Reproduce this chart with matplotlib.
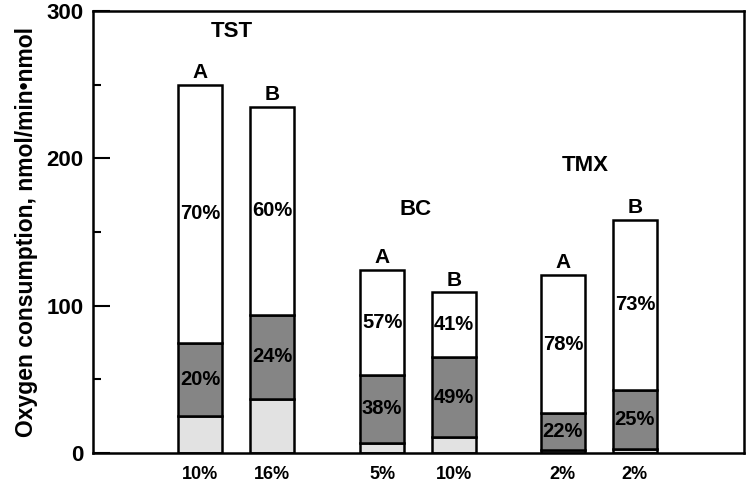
import matplotlib.pyplot as plt
from matplotlib.ticker import MultipleLocator

plt.rcParams['font.family'] = ['Liberation Sans', 'DejaVu Sans']
plt.rcParams['font.weight'] = 'bold'

# bar data (oxygen consumption, nmol/min*nmol), bottom -> top
tick_labels = ["10%", "16%", "5%", "10%", "2%", "2%"]
bar_letters = ["A", "B", "A", "B", "A", "B"]
light_part = [25, 37, 7, 11, 2, 3]
dark_part = [50, 57, 46, 54, 25, 40]
white_part = [175, 141, 71, 44, 94, 115]
dark_pct = ["20%", "24%", "38%", "49%", "22%", "25%"]
white_pct = ["70%", "60%", "57%", "41%", "78%", "73%"]

groups = ["TST", "BC", "TMX"]
group_x = [1.44, 4.0, 6.35]
group_y = [286, 165, 195]

x = [1, 2, 3.53, 4.53, 6.04, 7.04]
width = 0.61

fig = plt.figure(figsize=(7.5, 4.84), dpi=100)
ax = fig.add_axes([0.124, 0.064, 0.868, 0.913])

lw = 1.8
dark_bottom = light_part
white_bottom = [a + b for a, b in zip(light_part, dark_part)]
totals = [a + b for a, b in zip(white_bottom, white_part)]

ax.bar(x, light_part, width, color='#e2e2e2', edgecolor='black', linewidth=lw, zorder=2)
ax.bar(x, dark_part, width, bottom=dark_bottom, color='#858585', edgecolor='black', linewidth=lw, zorder=2)
ax.bar(x, white_part, width, bottom=white_bottom, color='white', edgecolor='black', linewidth=lw, zorder=2)

for i in range(len(x)):
    ax.text(x[i], dark_bottom[i] + dark_part[i] / 2, dark_pct[i], ha='center', va='center',
            fontsize=14.5, zorder=3)
    ax.text(x[i], white_bottom[i] + white_part[i] / 2, white_pct[i], ha='center', va='center',
            fontsize=14.5, zorder=3)
    ax.text(x[i], totals[i] + 2, bar_letters[i], ha='center', va='bottom', fontsize=15)

for g, gx, gy in zip(groups, group_x, group_y):
    ax.text(gx, gy, g, ha='center', va='center', fontsize=16)

ax.set_xlim(-0.486, 8.556)
ax.set_ylim(0, 300)
ax.set_xticks(x)
ax.set_xticklabels(tick_labels, fontsize=13)
ax.tick_params(axis='x', length=0, pad=9)
ax.yaxis.set_major_locator(MultipleLocator(100))
ax.yaxis.set_minor_locator(MultipleLocator(50))
ax.tick_params(axis='y', which='major', direction='in', length=12, width=1.5, labelsize=16, pad=7)
ax.tick_params(axis='y', which='minor', direction='in', length=6, width=1.5)
for s in ax.spines.values():
    s.set_linewidth(1.8)
ax.set_ylabel("Oxygen consumption, nmol/min\u2022nmol", fontsize=16.5, fontweight='bold',
              labelpad=6)

fig.savefig("out.png", dpi=100)
